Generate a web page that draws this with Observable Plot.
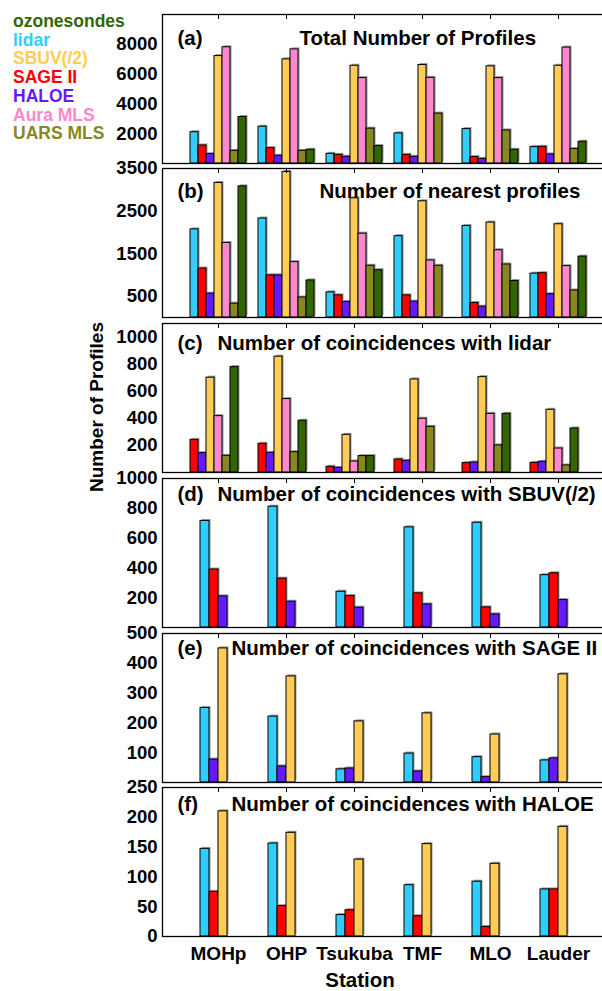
<!DOCTYPE html>
<html><head><meta charset="utf-8">
<script src="https://cdn.jsdelivr.net/npm/d3@7"></script>
<script src="https://cdn.jsdelivr.net/npm/@observablehq/plot@0.6"></script>
<style>
html,body{margin:0;padding:0;background:#fff;overflow:hidden}
#wrap{position:relative;width:602px;height:991px;overflow:hidden;font-family:"Liberation Sans",Arial,sans-serif;font-weight:bold;color:#000}
.panel{position:absolute;left:0}
.panel svg{position:absolute;left:0;top:0}
#legend{position:absolute;left:13px;top:12px;font-size:17.5px;line-height:18.7px;z-index:5}
#ylab{position:absolute;left:97px;top:407px;transform:translate(-50%,-50%) rotate(-90deg);font-size:19px;white-space:nowrap}
#xlab{position:absolute;left:360px;top:980px;transform:translate(-50%,-50%);font-size:20.5px;line-height:20px;white-space:nowrap}
</style></head><body><div id="wrap"></div>
<script>
// ---------- data ----------
const stations = ["MOHp", "OHP", "Tsukuba", "TMF", "MLO", "Lauder"];
const instruments = ["lidar", "SAGE II", "HALOE", "SBUV(/2)", "Aura MLS", "UARS MLS", "ozonesondes"];
const instrumentColors = ["#33ccff", "#ff0000", "#6619ff", "#ffcc55", "#ff88cc", "#888822", "#336600"];
const legendOrder = ["ozonesondes", "lidar", "SBUV(/2)", "SAGE II", "HALOE", "Aura MLS", "UARS MLS"];

// (a) Total number of profiles
const totalLidar  = [2100, 2470, 650, 2020, 2310, 1100];
const totalSage   = [1210, 1030, 580, 580, 430, 1120];
const totalHaloe  = [630, 520, 450, 450, 310, 610];
const totalSbuv   = [7210, 6990, 6560, 6610, 6520, 6560];
const totalAura   = [7800, 7660, 5730, 5750, 5730, 7780];
const totalUars   = [850, 850, 2340, 3350, 2220, 970];
const totalSondes = [3120, 920, 1170, 0, 920, 1460];

// (b) Number of nearest profiles
const nearestLidar  = [2070, 2325, 590, 1910, 2150, 1030];
const nearestSage   = [1150, 990, 520, 520, 340, 1040];
const nearestHaloe  = [560, 990, 365, 373, 254, 548];
const nearestSbuv   = [3160, 3420, 2800, 2730, 2230, 2190];
const nearestAura   = [1750, 1300, 1970, 1340, 1580, 1206];
const nearestUars   = [325, 470, 1215, 1215, 1245, 635];
const nearestSondes = [3080, 870, 1110, 0, 857, 1430];

// (c) Coincidences with lidar
const withLidarSage   = [241, 212, 42, 96, 69, 71];
const withLidarHaloe  = [143, 145, 34, 86, 74, 79];
const withLidarSbuv   = [700, 855, 278, 687, 704, 463];
const withLidarAura   = [416, 542, 81, 397, 433, 177];
const withLidarUars   = [123, 150, 121, 337, 200, 52];
const withLidarSondes = [778, 382, 121, 0, 433, 325];

// (d) Coincidences with SBUV(/2)
const withSbuvLidar = [715, 811, 240, 672, 703, 351];
const withSbuvSage  = [389, 328, 211, 229, 135, 364];
const withSbuvHaloe = [209, 173, 133, 155, 88, 184];

// (e) Coincidences with SAGE II
const withSageLidar = [250, 221, 44, 97, 85, 74];
const withSageHaloe = [77, 54, 47, 37, 18, 81];
const withSageSbuv  = [450, 356, 205, 232, 161, 363];

// (f) Coincidences with HALOE
const withHaloeLidar = [147, 156, 36, 86, 92, 79];
const withHaloeSage  = [75, 51, 44, 34, 16, 79];
const withHaloeSbuv  = [210, 174, 129, 155, 122, 184];

// tick labels
const ticksA = [2000, 4000, 6000, 8000];
const ticksB = [500, 1500, 2500, 3500];
const ticksC = [200, 400, 600, 800, 1000];
const ticksD = [200, 400, 600, 800, 1000];
const ticksE = [100, 200, 300, 400, 500];
const ticksF = [0, 50, 100, 150, 200, 250];

// ---------- layout config ----------
const BLANK = " ";
const panels = [
  {letter: "(a)", title: "Total Number of Profiles", max: 10000, ticks: ticksA,
   keys: instruments, series: [totalLidar, totalSage, totalHaloe, totalSbuv, totalAura, totalUars, totalSondes],
   slots: instruments, pad: [0.179, 0.396], tdx: 137, tdy: 24, top: 14},
  {letter: "(b)", title: "Number of nearest profiles", max: 3500, ticks: ticksB,
   keys: instruments, series: [nearestLidar, nearestSage, nearestHaloe, nearestSbuv, nearestAura, nearestUars, nearestSondes],
   slots: instruments, pad: [0.179, 0.396], tdx: 157, tdy: 23, top: 168},
  {letter: "(c)", title: "Number of coincidences with lidar", max: 1100, ticks: ticksC,
   keys: ["SAGE II", "HALOE", "SBUV(/2)", "Aura MLS", "UARS MLS", "ozonesondes"],
   series: [withLidarSage, withLidarHaloe, withLidarSbuv, withLidarAura, withLidarUars, withLidarSondes],
   slots: ["SAGE II", "HALOE", "SBUV(/2)", "Aura MLS", "UARS MLS", "ozonesondes", BLANK], pad: [0.179, 0.396], tdx: 55, tdy: 20, top: 323},
  {letter: "(d)", title: "Number of coincidences with SBUV(/2)", max: 1000, ticks: ticksD,
   keys: ["lidar", "SAGE II", "HALOE"], series: [withSbuvLidar, withSbuvSage, withSbuvHaloe],
   slots: ["lidar", "SAGE II", "HALOE", BLANK], pad: [0.472, 0.5425], tdx: 55, tdy: 16, top: 478},
  {letter: "(e)", title: "Number of coincidences with SAGE II", max: 500, ticks: ticksE,
   keys: ["lidar", "HALOE", "SBUV(/2)"], series: [withSageLidar, withSageHaloe, withSageSbuv],
   slots: ["lidar", "HALOE", "SBUV(/2)", BLANK], pad: [0.472, 0.5425], tdx: 69, tdy: 15, top: 633},
  {letter: "(f)", title: "Number of coincidences with HALOE", max: 250, ticks: ticksF,
   keys: ["lidar", "SAGE II", "SBUV(/2)"], series: [withHaloeLidar, withHaloeSage, withHaloeSbuv],
   slots: ["lidar", "SAGE II", "SBUV(/2)", BLANK], pad: [0.472, 0.5425], tdx: 69, tdy: 17, top: 787}
];

const FONT = '"Liberation Sans", Arial, sans-serif';
const STYLE = {fontFamily: FONT, fontWeight: "bold", fontSize: "18.5px", color: "black", background: "transparent", overflow: "visible", maxWidth: "none"};
const wrap = document.getElementById("wrap");

panels.forEach((p, i) => {
  const rows = p.keys.flatMap((k, j) => stations.map((s, m) => ({station: s, instrument: k, value: p.series[j][m]})));
  const last = i === panels.length - 1;
  const mt = 5, mb = last ? 56 : 1;
  const dims = {width: 613, height: 149 + mt + mb, marginLeft: 162, marginRight: 0, marginTop: mt, marginBottom: mb};

  // bars, faceted by station
  const barMarks = [
    Plot.barY(rows, {fx: "station", x: "instrument", y: "value", fill: "#9a9a9a", dx: 1.5, dy: -1.5}),
    Plot.barY(rows, {fx: "station", x: "instrument", y: "value", fill: "instrument", stroke: "black", strokeWidth: 1}),
    Plot.axisFx({anchor: "top", tickSize: -4, tickFormat: () => "", label: null})
  ];
  if (last) barMarks.push(Plot.axisFx({anchor: "bottom", tickSize: 0, tickPadding: 10, label: null, fontSize: 19}));
  const bars = Plot.plot({
    ...dims, style: STYLE,
    fx: {domain: stations, paddingInner: p.pad[0], paddingOuter: p.pad[1], axis: null},
    x: {domain: p.slots, padding: 0, axis: null},
    y: {domain: [0, p.max], axis: null},
    color: {domain: instruments, range: instrumentColors},
    marks: barMarks
  });

  // frame, y axis and panel title over the whole panel
  const frame = Plot.plot({
    ...dims, style: STYLE,
    y: {domain: [0, p.max], axis: null},
    marks: [
      Plot.frame({stroke: "black", strokeWidth: 1.3}),
      Plot.axisY({ticks: p.ticks, tickSize: 0, tickPadding: 5, tickFormat: "d", fontSize: 18.5, label: null}),
      Plot.text([p.letter], {text: d => d, frameAnchor: "top-left", dx: 15, dy: p.tdy, lineAnchor: "middle", textAnchor: "start", fontSize: 20.5}),
      Plot.text([p.title], {text: d => d, frameAnchor: "top-left", dx: p.tdx, dy: p.tdy, lineAnchor: "middle", textAnchor: "start", fontSize: 20.5})
    ]
  });

  const div = document.createElement("div");
  div.className = "panel";
  div.style.top = (p.top - mt) + "px";
  div.style.width = "613px";
  div.style.height = dims.height + "px";
  div.appendChild(bars);
  div.appendChild(frame);
  wrap.appendChild(div);
});

// legend
const colorOf = new Map(instruments.map((k, i) => [k, instrumentColors[i]]));
const legend = document.createElement("div");
legend.id = "legend";
legendOrder.forEach(k => {
  const d = document.createElement("div");
  d.textContent = k;
  d.style.color = colorOf.get(k);
  legend.appendChild(d);
});
wrap.appendChild(legend);

const ylab = document.createElement("div");
ylab.id = "ylab"; ylab.textContent = "Number of Profiles";
wrap.appendChild(ylab);
const xlab = document.createElement("div");
xlab.id = "xlab"; xlab.textContent = "Station";
wrap.appendChild(xlab);
</script></body></html>
